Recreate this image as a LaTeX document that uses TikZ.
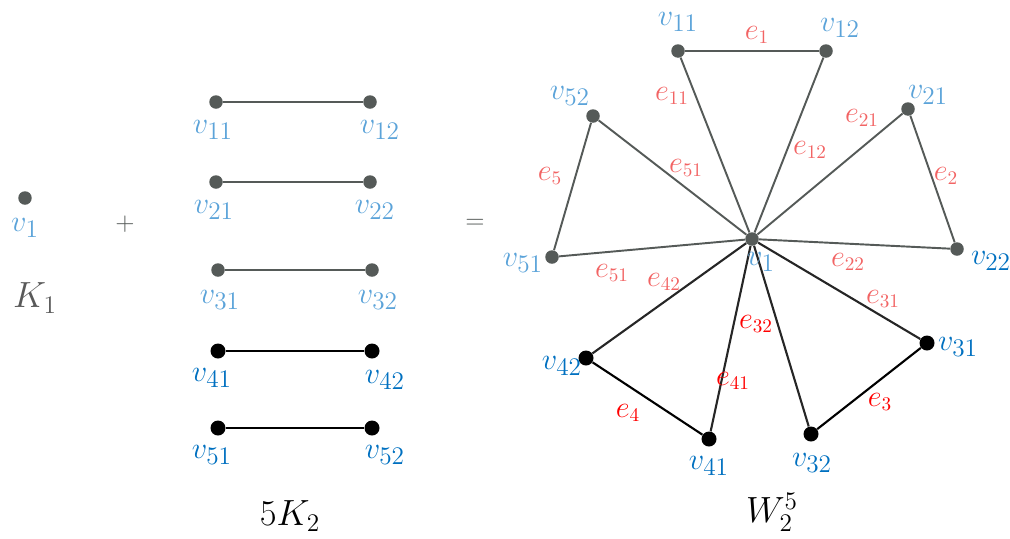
\documentclass[tikz,border=0pt]{standalone}
\usepackage{amsmath}
\definecolor{vgrey}{HTML}{555A58}
\definecolor{vblue}{HTML}{5BA3D9}
\definecolor{vdblue}{HTML}{0070C0}
\definecolor{ered}{HTML}{F26464}
\definecolor{edred}{HTML}{FF0000}
\begin{document}
\begin{tikzpicture}[x=0.02cm, y=-0.02cm,
    dotg/.style={circle, fill=vgrey, inner sep=0pt, minimum size=0.27cm},
    dotb/.style={circle, fill=black, inner sep=0pt, minimum size=0.3cm},
    lnk/.style={line width=1.1pt, vgrey},
    lnkb/.style={line width=1.2pt, black},
    vlab/.style={font=\fontsize{19}{22}\selectfont, vblue, inner sep=0pt},
    vlabd/.style={vlab, vdblue},
    elab/.style={font=\fontsize{16}{19}\selectfont, ered, inner sep=0pt},
    elabd/.style={elab, edred},
    tlab/.style={font=\fontsize{21}{24}\selectfont, inner sep=0pt}]
        \useasboundingbox (0,0) rectangle (1010,538);

        % K_1
        \node[dotg] (a1) at (25,198) {};
        \node[vlab] (la1) at (25,228) {$v_1$};
        \node[tlab, black!65] (k1) at (35,298) {$K_1$};
        \node[font=\Large, vgrey] (plus) at (125,224) {$+$};

        % 5K_2
        \node[dotg] (b11) at (216,102) {};
        \node[dotg] (b12) at (370,102) {};
        \node[dotg] (b21) at (216,182) {};
        \node[dotg] (b22) at (370,182) {};
        \node[dotg] (b31) at (218,270) {};
        \node[dotg] (b32) at (372,270) {};
        \node[dotb] (b41) at (218,351) {};
        \node[dotb] (b42) at (372,351) {};
        \node[dotb] (b51) at (218,428) {};
        \node[dotb] (b52) at (372,428) {};
        \draw[lnk] (b11) -- (b12);
        \draw[lnk] (b21) -- (b22);
        \draw[lnk] (b31) -- (b32);
        \draw[lnkb] (b41) -- (b42);
        \draw[lnkb] (b51) -- (b52);
        \node[vlab] (lb11) at (213,130) {$v_{11}$};
        \node[vlab] (lb12) at (380,130) {$v_{12}$};
        \node[vlab] (lb21) at (214,210) {$v_{21}$};
        \node[vlab] (lb22) at (375,210) {$v_{22}$};
        \node[vlab] (lb31) at (220,300) {$v_{31}$};
        \node[vlab] (lb32) at (378,300) {$v_{32}$};
        \node[vlabd] (lb41) at (212,378) {$v_{41}$};
        \node[vlabd] (lb42) at (385,380) {$v_{42}$};
        \node[vlabd] (lb51) at (212,455) {$v_{51}$};
        \node[vlabd] (lb52) at (385,455) {$v_{52}$};
        \node[tlab] (k2) at (290,516) {$5K_2$};
        \node[font=\Large, vgrey] (eq) at (475,224) {$=$};

        % W_2^5: hub and outer vertices
        \node[dotg] (c0) at (752,239) {};
        \node[dotg] (c11) at (678,51) {};
        \node[dotg] (c12) at (826,51) {};
        \node[dotg] (c21) at (908,109) {};
        \node[dotg] (c22) at (957,249) {};
        \node[dotb] (c31) at (927,343) {};
        \node[dotb] (c32) at (811,434) {};
        \node[dotb] (c41) at (709,439) {};
        \node[dotb] (c42) at (586,358) {};
        \node[dotg] (c51) at (552,257) {};
        \node[dotg] (c52) at (593,116) {};

        % spokes
        \foreach \v in {c11,c12,c21,c22,c51,c52}
            \draw[lnk] (c0) -- (\v);
        \foreach \v in {c31,c32,c41,c42}
            \draw[lnkb, black!85] (c0) -- (\v);
        % rim edges
        \draw[lnk] (c11) -- (c12);
        \draw[lnk] (c21) -- (c22);
        \draw[lnkb] (c31) -- (c32);
        \draw[lnkb] (c41) -- (c42);
        \draw[lnk] (c51) -- (c52);

        % vertex labels
        \node[vlab] (lc0) at (761,262) {$v_1$};
        \node[vlab] (lc11) at (678,22) {$v_{11}$};
        \node[vlab] (lc12) at (840,28) {$v_{12}$};
        \node[vlab] (lc21) at (928,95) {$v_{21}$};
        \node[vlabd] (lc22) at (991,261) {$v_{22}$};
        \node[vlabd] (lc31) at (958,347) {$v_{31}$};
        \node[vlabd] (lc32) at (812,463) {$v_{32}$};
        \node[vlabd] (lc41) at (709,466) {$v_{41}$};
        \node[vlabd] (lc42) at (562,366) {$v_{42}$};
        \node[vlab] (lc51) at (523,263) {$v_{51}$};
        \node[vlab] (lc52) at (570,96) {$v_{52}$};

        % edge labels
        \node[elab] (e1) at (757,35) {$e_1$};
        \node[elab] (e11) at (672,96) {$e_{11}$};
        \node[elab] (e51a) at (686,168) {$e_{51}$};
        \node[elab] (e5) at (550,176) {$e_5$};
        \node[elab] (e12) at (810,150) {$e_{12}$};
        \node[elab] (e21) at (862,118) {$e_{21}$};
        \node[elab] (e2) at (946,176) {$e_2$};
        \node[elab] (e22) at (848,262) {$e_{22}$};
        \node[elab] (e31) at (883,299) {$e_{31}$};
        \node[elab] (e51b) at (612,273) {$e_{51}$};
        \node[elab] (e42) at (664,282) {$e_{42}$};
        \node[elabd] (e32) at (756,324) {$e_{32}$};
        \node[elabd] (e41) at (733,381) {$e_{41}$};
        \node[elabd] (e4) at (628,413) {$e_4$};
        \node[elabd] (e3) at (880,402) {$e_3$};
        \node[tlab] (w) at (772,512) {$W_2^5$};
\end{tikzpicture}
\end{document}
